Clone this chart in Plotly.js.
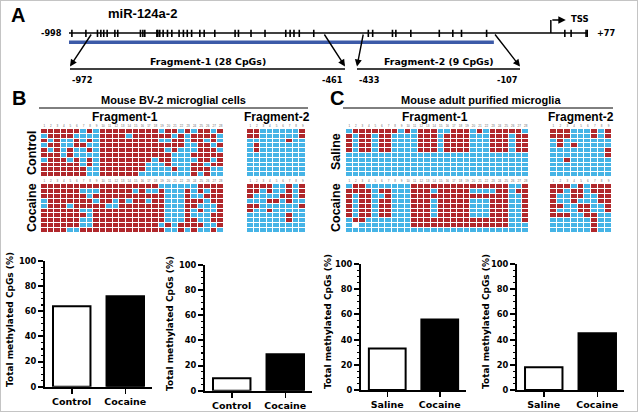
<!DOCTYPE html>
<html>
<head>
<meta charset="utf-8">
<script src="https://cdn.plot.ly/plotly-3.0.1.min.js"></script>
<style>html,body{margin:0;padding:0;background:#fff}#chart{width:638px;height:412px}</style>
</head>
<body>
<div id="chart"></div>
<script>
// ---------------- DATA ----------------
// Panel A: genomic positions (bp relative to TSS)
const regionRange = [-998, 77];
const bisulfiteRegion = [-998, -118];
const fragment1Range = [-972, -461];
const fragment2Range = [-433, -107];
const fragment1Name = 'Fragment-1 (28 CpGs)';
const fragment2Name = 'Fragment-2 (9 CpGs)';
const cpgRegion1Positions = [-992, -963, -939, -932, -926, -919, -903, -897, -850, -845, -841, -816, -814, -810, -803, -794, -785, -770, -761, -753, -744, -727, -718, -696, -654, -647, -621, -592, -549, -540, -532, -521, -491];
const cpgRegion2Positions = [-378, -369, -328, -321, -290, -231, -203, -185, -133];
const cpgTssPositions = [29, 42, 73, 76];
const arrowTailPositions = [-950, -471, -388, -118];
const tssPosition = 0;
const tssArrowEnd = 31;

// column labels of the methylation grids
const fragment1Cols = ['1','2','3','4','5','6','7','8','9','10','11','12','13','14','15','16','17','18','19','20','21','22','23','24','25','26','27','28'];
const fragment2Cols = ['1','2','3','4','5','6','7','8','9'];

// methylation grids: 1 = methylated (red), 0 = unmethylated (blue), x = missing
const bvControlF1 = [
  '1111110101111111110110101101',
  '0111100001111011111101011110',
  '1010010101111111110011011010',
  '0110011001111111111111001101',
  '1010100101111111111010001110',
  '1110100001111111111100011111',
  '0111010101111111101100001101',
  '1111110101111111000100011011',
  '1111111001111111000010011100',
  '1111111001111110000000010100'
];
const bvCocaineF1 = [
  '1111111111111111110000001111',
  '1111110001111101001000101011',
  '1111111011111111111000100111',
  '0111111101101011011000111011',
  '0111011111001111111000110001',
  '1111110011111111111000101001',
  '1111111011111111111000100011',
  '1111110011111111111000110011',
  '1111110011111111110101111001',
  '1111001111111111111001010010'
];
const bvControlF2 = [
  '110000001','110000001','000000100','010000000','010000000',
  '000000000','000000000','000000000','000000000','000000000'
];
const bvCocaineF2 = [
  '111100101','110100101','100001101','000110100','110000001',
  '100100000','000000100','000000100','000000000','000000000'
];
const mgSalineF1 = [
  '0111111101011100111010111110',
  '1011011000011101111000111011',
  '1011011000011101111000111011',
  '1011011000011101111000111011',
  '1011011000011101111000111011',
  '0000000000000000000000000000',
  '0000000000000000000000000000',
  '0000000000000000000000000000',
  '0000000000000000000000000000',
  '0000000000000000000000000000'
];
const mgCocaineF1 = [
  '0110000000111111111111111001',
  '1111011000111011111000011011',
  '1011001000111111111111111001',
  '1011011000111011111000111001',
  '1011011000111011111000111001',
  '1011011000111011111000111001',
  '1011011000111011111000111001',
  '0110000000111111111111111001',
  '0x00000000111111111111111000',
  '0000000000000000000000000000'
];
const mgSalineF2 = [
  '111000101','111000101','010000000','010100000','000000001',
  '000000001','001000000','000000000','000000000','000000000'
];
const mgCocaineF2 = [
  '111010111','110110111','100110011','100100011','110011001',
  '100011001','111001100','000000100','000000100','000000100'
];

// bar charts: total methylated CpGs (%)
const bvGroups = ['Control', 'Cocaine'];
const mgGroups = ['Saline', 'Cocaine'];
const bvF1Pct = [64, 72];
const bvF2Pct = [10, 29];
const mgF1Pct = [33, 56];
const mgF2Pct = [18, 45];
const barColors = ['#ffffff', '#000000'];

// ---------------- LAYOUT HELPERS ----------------
const W = 638, H = 412;
const X = p => p / W;
const Y = p => 1 - p / H;
const dx = (a, b) => [X(a), X(b)];
const dy = (top, bottom) => [Y(bottom), Y(top)];

const RED = '#b0282c', BLUE = '#46b4e6';
const ARIAL = 'Liberation Sans, Arial, sans-serif';
const WIDE = 'DejaVu Sans, sans-serif';

const traces = [];
const layout = {
  width: W, height: H,
  margin: {l: 0, r: 0, t: 0, b: 0},
  paper_bgcolor: '#fff', plot_bgcolor: '#fff',
  showlegend: false,
  shapes: [], annotations: []
};

// ---------------- HEATMAPS ----------------
const grids = [
  {rows: bvControlF1, cols: fragment1Cols, x: [41, 224], y: [129, 177]},
  {rows: bvCocaineF1, cols: fragment1Cols, x: [41, 224], y: [184, 233]},
  {rows: bvControlF2, cols: fragment2Cols, x: [247, 306], y: [129, 177]},
  {rows: bvCocaineF2, cols: fragment2Cols, x: [247, 306], y: [184, 233]},
  {rows: mgSalineF1, cols: fragment1Cols, x: [346, 529], y: [129, 177]},
  {rows: mgCocaineF1, cols: fragment1Cols, x: [346, 529], y: [184, 233]},
  {rows: mgSalineF2, cols: fragment2Cols, x: [550, 612], y: [129, 177]},
  {rows: mgCocaineF2, cols: fragment2Cols, x: [550, 612], y: [184, 233]}
];
grids.forEach((g, i) => {
  const n = i + 1;
  const xa = n === 1 ? 'x' : 'x' + n, ya = n === 1 ? 'y' : 'y' + n;
  const z = g.rows.map(r => r.split('').map(c => c === 'x' ? null : Number(c)));
  traces.push({
    type: 'heatmap', z: z, x: g.cols, y: g.rows.map((_, k) => k),
    xaxis: xa, yaxis: ya, zmin: 0, zmax: 1,
    colorscale: [[0, BLUE], [1, RED]], showscale: false,
    xgap: 1, ygap: 1, hoverinfo: 'skip'
  });
  layout['xaxis' + (n === 1 ? '' : n)] = {
    domain: dx(g.x[0], g.x[1]), anchor: ya, type: 'category', side: 'top',
    showgrid: false, zeroline: false, showline: false, ticks: '',
    tickfont: {size: 3, color: '#666', family: ARIAL}, tickangle: 0, fixedrange: true
  };
  layout['yaxis' + (n === 1 ? '' : n)] = {
    domain: dy(g.y[0], g.y[1]), anchor: xa, range: [g.rows.length - 0.5, -0.5],
    visible: false, fixedrange: true
  };
});

// ---------------- BAR CHARTS ----------------
const bars = [
  {cats: bvGroups, vals: bvF1Pct, x: [45, 152], y: [261, 386.7], tx: 10, ty: 320},
  {cats: bvGroups, vals: bvF2Pct, x: [205, 312], y: [265, 390.7], tx: 170, ty: 324},
  {cats: mgGroups, vals: mgF1Pct, x: [361, 466], y: [264, 390], tx: 328, ty: 322},
  {cats: mgGroups, vals: mgF2Pct, x: [517, 624], y: [264, 390], tx: 486, ty: 322}
];
bars.forEach((b, i) => {
  const n = 9 + i;
  traces.push({
    type: 'bar', x: b.cats, y: b.vals, xaxis: 'x' + n, yaxis: 'y' + n,
    width: 0.7, marker: {color: barColors, line: {color: '#000', width: 2}},
    hoverinfo: 'skip'
  });
  layout['xaxis' + n] = {
    domain: dx(b.x[0], b.x[1]), anchor: 'y' + n, type: 'category', range: [-0.5, 1.5],
    showline: true, linecolor: '#000', linewidth: 2, showgrid: false, zeroline: false,
    ticks: 'outside', ticklen: 5, tickwidth: 1.5, tickcolor: '#000',
    tickfont: {family: WIDE, weight: 'bold', size: 9.5, color: '#000'}, fixedrange: true
  };
  layout['yaxis' + n] = {
    domain: dy(b.y[0], b.y[1]), anchor: 'x' + n, range: [0, 100], dtick: 20,
    showline: true, linecolor: '#000', linewidth: 2, showgrid: false, zeroline: false,
    ticks: 'outside', ticklen: 5, tickwidth: 2, tickcolor: '#000',
    minor: {ticks: 'outside', dtick: 5, ticklen: 2.5, tickwidth: 1.2, tickcolor: '#000'},
    tickfont: {family: WIDE, weight: 'bold', size: 8.3, color: '#000'}, fixedrange: true
  };
  layout.annotations.push({
    xref: 'paper', yref: 'paper', x: X(b.tx), y: Y(b.ty),
    text: 'Total methylated CpGs (%)', textangle: -90, showarrow: false,
    font: {family: WIDE, weight: 'bold', size: 9, color: '#000'}
  });
});

// ---------------- PANEL A ----------------
const LINE_Y = 33, BLUE_Y = 42.2, FRAG_Y = 69, TSS_Y = 20;
const GA = {x0: 69, x1: 588};          // genome axis pixel extent
const F1 = {x0: 70, x1: 345};          // fragment-1 callout
const F2 = {x0: 357, x1: 520};         // fragment-2 callout
layout.xaxis13 = {domain: dx(GA.x0, GA.x1), range: regionRange, anchor: 'y13', visible: false, fixedrange: true};
layout.yaxis13 = {domain: dy(29.5, 37), range: [0, 1], anchor: 'x13', visible: false, fixedrange: true};
layout.xaxis14 = {domain: dx(F1.x0, F1.x1), range: fragment1Range, anchor: 'y14', visible: false, fixedrange: true};
layout.xaxis15 = {domain: dx(F2.x0, F2.x1), range: fragment2Range, anchor: 'y14', visible: false, fixedrange: true};
layout.yaxis14 = {domain: dy(60, 75), range: [0, 1], anchor: 'x14', visible: false, fixedrange: true};

const allCpG = cpgRegion1Positions.concat(cpgRegion2Positions, cpgTssPositions);
const cx = [], cy = [];
allCpG.forEach(p => { cx.push(p, p, null); cy.push(0, 1, null); });
traces.push({type: 'scatter', mode: 'lines', x: cx, y: cy, xaxis: 'x13', yaxis: 'y13',
  line: {color: '#000', width: 1.6}, hoverinfo: 'skip'});

const S = layout.shapes, A = layout.annotations;
// main line
S.push({type: 'line', xref: 'x13', yref: 'paper', x0: regionRange[0], x1: regionRange[1], y0: Y(LINE_Y), y1: Y(LINE_Y), line: {color: '#000', width: 1.5}});
// bisulfite amplicon bar
S.push({type: 'line', xref: 'x13', yref: 'paper', x0: bisulfiteRegion[0], x1: bisulfiteRegion[1], y0: Y(BLUE_Y), y1: Y(BLUE_Y), line: {color: '#3c5aa8', width: 3.5}});
// TSS
S.push({type: 'line', xref: 'x13', yref: 'paper', x0: tssPosition, x1: tssPosition, y0: Y(LINE_Y), y1: Y(TSS_Y), line: {color: '#000', width: 1.5}});
A.push({xref: 'x13', yref: 'paper', axref: 'x13', ayref: 'paper', x: tssArrowEnd, y: Y(TSS_Y), ax: tssPosition, ay: Y(TSS_Y),
  text: '', showarrow: true, arrowhead: 2, arrowsize: 1, arrowwidth: 1.5, arrowcolor: '#000'});
A.push({xref: 'x13', yref: 'paper', x: tssArrowEnd, y: Y(TSS_Y - 1), xanchor: 'left', xshift: 3, text: 'TSS', showarrow: false,
  font: {family: WIDE, weight: 'bold', size: 8.5, color: '#000'}});
A.push({xref: 'x13', yref: 'paper', x: regionRange[0], y: Y(LINE_Y), xanchor: 'right', xshift: -5, text: String(regionRange[0]), showarrow: false,
  font: {family: WIDE, weight: 'bold', size: 8.2, color: '#000'}});
A.push({xref: 'x13', yref: 'paper', x: regionRange[1], y: Y(LINE_Y), xanchor: 'left', xshift: 7, text: '+' + regionRange[1], showarrow: false,
  font: {family: WIDE, weight: 'bold', size: 8.2, color: '#000'}});

// fragment callouts
[[fragment1Range, 'x14', fragment1Name], [fragment2Range, 'x15', fragment2Name]].forEach(([r, xa, name]) => {
  S.push({type: 'line', xref: xa, yref: 'paper', x0: r[0], x1: r[1], y0: Y(FRAG_Y), y1: Y(FRAG_Y), line: {color: '#000', width: 1.5}});
  A.push({xref: xa, yref: 'paper', x: (r[0] + r[1]) / 2, y: Y(62), text: name, showarrow: false,
    font: {family: WIDE, weight: 'bold', size: 9.4, color: '#000'}});
  A.push({xref: xa, yref: 'paper', x: r[0], y: Y(80), xanchor: 'left', text: String(r[0]), showarrow: false,
    font: {family: WIDE, weight: 'bold', size: 8.2, color: '#000'}});
  A.push({xref: xa, yref: 'paper', x: r[1], y: Y(80), xanchor: 'right', text: String(r[1]), showarrow: false,
    font: {family: WIDE, weight: 'bold', size: 8.2, color: '#000'}});
});
// arrows from main line to fragment ends
const pxG = g => GA.x0 + (g - regionRange[0]) * (GA.x1 - GA.x0) / (regionRange[1] - regionRange[0]);
const pxF1 = g => F1.x0 + (g - fragment1Range[0]) * (F1.x1 - F1.x0) / (fragment1Range[1] - fragment1Range[0]);
const pxF2 = g => F2.x0 + (g - fragment2Range[0]) * (F2.x1 - F2.x0) / (fragment2Range[1] - fragment2Range[0]);
const heads = [[fragment1Range[0], 'x14', pxF1], [fragment1Range[1], 'x14', pxF1], [fragment2Range[0], 'x15', pxF2], [fragment2Range[1], 'x15', pxF2]];
heads.forEach(([h, xa, f], i) => {
  A.push({xref: xa, yref: 'paper', x: h, y: Y(FRAG_Y - 2.5), axref: 'pixel', ayref: 'pixel',
    ax: pxG(arrowTailPositions[i]) - f(h), ay: LINE_Y - (FRAG_Y - 2.5),
    text: '', showarrow: true, arrowhead: 2, arrowsize: 1, arrowwidth: 1.4, arrowcolor: '#000', standoff: 0, startstandoff: 0});
});

// ---------------- TEXT LABELS ----------------
const label = (t, x, y, s, extra) => A.push(Object.assign({xref: 'paper', yref: 'paper', x: X(x), y: Y(y), text: '<b>' + t + '</b>', showarrow: false,
  font: {family: ARIAL, size: s, color: '#000'}}, extra || {}));
label('A', 18, 15, 20); label('B', 19, 98, 20); label('C', 337, 98, 20);
label('miR-124a-2', 142, 14, 13);
label('Mouse BV-2 microglial cells', 173, 100, 11);
label('Mouse adult purified microglia', 481, 100, 11);
label('Fragment-1', 125, 117, 12);
label('Fragment-2', 277, 117, 12);
label('Fragment-1', 435, 116.5, 12);
label('Fragment-2', 581, 116.5, 12);
S.push({type: 'line', xref: 'paper', yref: 'paper', x0: X(39), x1: X(308), y0: Y(108), y1: Y(108), line: {color: '#000', width: 1}});
S.push({type: 'line', xref: 'paper', yref: 'paper', x0: X(343), x1: X(613), y0: Y(108), y1: Y(108), line: {color: '#000', width: 1}});

label('Control', 32, 153, 12.5, {textangle: -90});
label('Cocaine', 32, 208, 12.5, {textangle: -90});
label('Saline', 336, 152, 12.5, {textangle: -90});
label('Cocaine', 336, 208, 12.5, {textangle: -90});

// explicit anchoring for every annotation
A.forEach(a => { if (!a.xanchor) a.xanchor = 'center'; if (!a.yanchor) a.yanchor = 'middle'; });

// outer frame
S.push({type: 'rect', xref: 'paper', yref: 'paper', x0: 0, x1: 1, y0: 0, y1: 1, line: {color: '#c4c4c4', width: 2}});

Plotly.newPlot('chart', traces, layout, {staticPlot: true, displayModeBar: false});
</script>
</body>
</html>
